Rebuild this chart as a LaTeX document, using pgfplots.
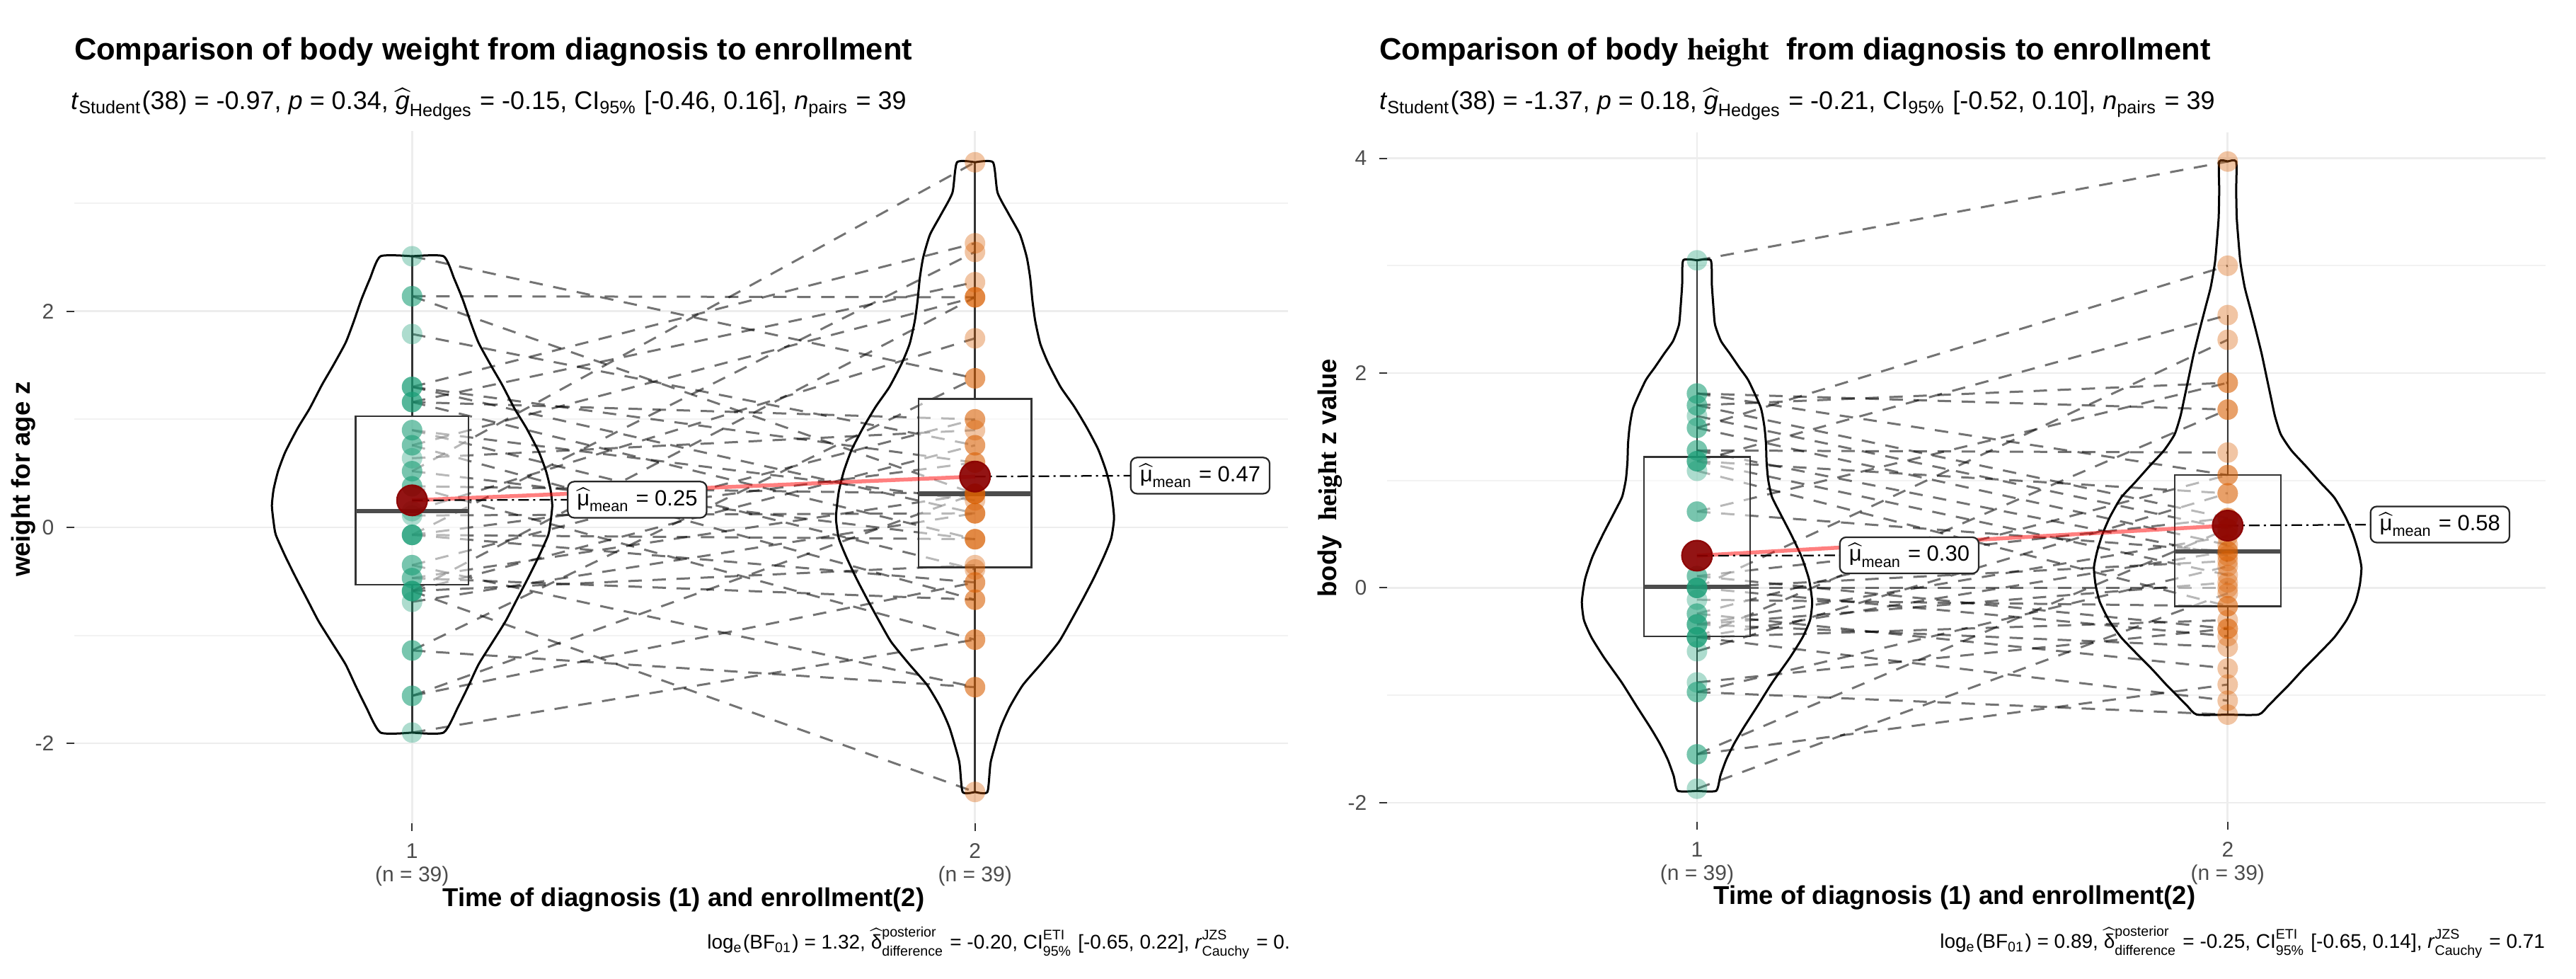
\documentclass[border=0pt]{standalone}
\usepackage{amsmath}
\usepackage{fontspec}
\setmainfont{Liberation Sans}
\newfontfamily\serifh{Liberation Serif}
\usepackage{pgfplots}
\usepackage{pgfplotstable}
\pgfplotsset{compat=1.18}
\usepgfplotslibrary{statistics}

\definecolor{grn}{HTML}{1B9E77}
\definecolor{org}{HTML}{D95F02}
\definecolor{dred}{HTML}{8B0000}

% paired values, left panel (weight)
\pgfplotstableread{
a b
-1.90 -1.04
-1.56 0.31
-1.56 -0.51
-1.14 1.38
-1.14 -1.48
-0.69 0.13
-0.59 -2.45
-0.59 0.76
-0.59 -0.35
-0.59 2.13
-0.47 -0.67
-0.47 0.31
-0.35 -1.48
-0.35 1.00
-0.07 -0.11
-0.07 2.55
-0.07 -0.51
-0.07 0.60
0.11 0.13
0.15 1.75
0.38 -1.04
0.38 0.31
0.52 3.38
0.52 -0.11
0.64 0.90
0.76 -0.67
0.76 2.13
0.90 0.25
0.90 -0.39
1.16 1.00
1.16 2.27
1.16 -0.11
1.30 0.60
1.30 2.63
1.30 0.13
1.79 0.76
2.14 2.13
2.14 0.31
2.51 1.38
}\pairsL

% paired values, right panel (height)
\pgfplotstableread{
a b
-1.87 -0.05
-1.55 -0.90
-1.55 0.55
-0.97 -1.18
-0.97 0.20
-0.88 -0.38
-0.59 0.88
-0.46 -1.05
-0.46 0.34
-0.46 -0.30
-0.46 1.66
-0.34 -0.55
-0.34 0.05
-0.34 0.48
-0.24 -0.75
-0.24 1.05
-0.11 -0.17
0.00 0.25
0.00 -0.45
0.00 2.31
0.00 0.00
0.11 0.65
0.11 -0.38
0.71 0.34
0.71 1.91
1.09 -0.17
1.18 0.88
1.18 0.12
1.18 2.54
1.28 0.30
1.28 1.26
1.49 0.40
1.49 3.00
1.60 0.55
1.70 1.91
1.70 0.65
1.81 1.66
1.81 1.05
3.05 3.97
}\pairsR

% violin outlines: y and half width
\pgfplotstableread{
y w
2.51 0.000
2.51 0.056
2.30 0.075
2.11 0.090
1.90 0.104
1.71 0.118
1.50 0.140
1.32 0.160
1.10 0.182
0.92 0.203
0.70 0.225
0.52 0.238
0.35 0.246
0.20 0.249
0.05 0.246
-0.07 0.242
-0.27 0.225
-0.47 0.206
-0.67 0.186
-0.87 0.166
-1.07 0.142
-1.27 0.118
-1.47 0.100
-1.66 0.082
-1.90 0.056
-1.90 0.000
}\violLa

\pgfplotstableread{
y w
3.38 0.000
3.38 0.032
3.10 0.040
2.90 0.060
2.71 0.080
2.50 0.092
2.31 0.098
2.10 0.102
1.91 0.107
1.70 0.116
1.52 0.130
1.30 0.152
1.12 0.176
0.92 0.199
0.72 0.219
0.52 0.233
0.33 0.242
0.09 0.247
-0.10 0.242
-0.27 0.229
-0.47 0.211
-0.67 0.191
-0.87 0.170
-1.06 0.149
-1.26 0.118
-1.46 0.085
-1.66 0.062
-1.86 0.045
-2.17 0.028
-2.45 0.022
-2.45 0.000
}\violLb

\pgfplotstableread{
y w
3.05 0.000
3.05 0.026
2.82 0.028
2.61 0.031
2.45 0.034
2.30 0.045
2.18 0.062
2.05 0.080
1.93 0.097
1.68 0.120
1.50 0.127
1.34 0.130
1.18 0.131
1.01 0.134
0.85 0.141
0.71 0.155
0.50 0.177
0.29 0.197
0.08 0.211
-0.13 0.217
-0.30 0.213
-0.46 0.199
-0.65 0.175
-0.88 0.142
-1.10 0.114
-1.30 0.088
-1.45 0.070
-1.60 0.055
-1.75 0.044
-1.89 0.036
-1.89 0.000
}\violRa

\pgfplotstableread{
y w
3.97 0.000
3.97 0.016
3.70 0.016
3.45 0.017
3.25 0.020
3.03 0.024
2.80 0.032
2.61 0.042
2.40 0.053
2.18 0.064
1.97 0.073
1.76 0.082
1.60 0.089
1.43 0.100
1.28 0.120
1.13 0.148
0.98 0.175
0.84 0.201
0.66 0.222
0.50 0.236
0.34 0.246
0.19 0.252
0.03 0.249
-0.13 0.241
-0.30 0.224
-0.46 0.201
-0.61 0.172
-0.76 0.142
-0.90 0.116
-1.01 0.094
-1.10 0.076
-1.18 0.058
-1.18 0.000
}\violRb

\pgfplotsset{
  zstyle/.style={
    scale only axis,
    axis line style={draw=none},
    tick align=outside,
    major tick length=2.2pt,
    minor tick length=0pt,
    tick style={black!80, line width=0.4pt},
    xtick pos=left, ytick pos=left,
    xmajorgrids, ymajorgrids, yminorgrids,
    major grid style={gray!14, line width=0.55pt},
    minor grid style={gray!10, line width=0.4pt},
    xtick={1,2},
    xticklabels={{1\\(n = 39)},{2\\(n = 39)}},
    xticklabel style={align=center, font=\fontsize{6}{6.6}\selectfont, text=black!70},
    yticklabel style={font=\fontsize{6}{7}\selectfont, text=black!70},
  },
  gpt/.style={only marks, mark=*, mark size=2.9pt, color=#1,
    mark options={draw opacity=0, fill opacity=0.36}},
  pathl/.style={black, draw opacity=0.55, line width=0.6pt, dash pattern=on 3.8pt off 3pt},
  bx/.style={draw=black!80, fill=white, fill opacity=0.5, line width=0.5pt,
    boxplot/draw direction=y,
    boxplot/box extend=0.2, boxplot/whisker extend=0,
    boxplot/every median/.style={draw=black!70, line width=1.3pt}},
  vio/.style={black, line width=0.6pt, smooth, tension=0.35},
  mpath/.style={red, draw opacity=0.5, line width=1.1pt},
  mseg/.style={black, line width=0.45pt, dash pattern=on 3pt off 1.2pt on 0.6pt off 1.2pt},
  mdot/.style={only marks, mark=*, mark size=4.3pt, color=dred,
    mark options={fill opacity=0.92, draw opacity=0.92}},
}
\tikzset{lbl/.style={draw=black!85, line width=0.45pt, rounded corners=1.8pt, fill=white,
  inner xsep=2.6pt, inner ysep=1.7pt, font=\fontsize{6.2}{7}\selectfont}}

\newcommand{\muhat}[1]{$\widehat{\text{μ}}_{\text{mean}}$ = #1}

\begin{document}
\begin{tikzpicture}
\useasboundingbox (0,0) rectangle (728pt,276.4pt);

% ---------------- left panel ----------------
\begin{axis}[zstyle, at={(21pt,43.8pt)}, anchor=south west,
  width=343pt, height=195.6pt,
  xmin=0.4, xmax=2.556, ymin=-2.74, ymax=3.67,
  ytick={-2,0,2}, yticklabels={-2,0,2}, minor ytick={-3,-1,1,3}]
\addplot[gpt=grn] table[x expr=1, y=a] {\pairsL};
\addplot[gpt=org] table[x expr=2, y=b] {\pairsL};
\addplot[pathl, quiver={u=1, v=\thisrow{b}-\thisrow{a}}] table[x expr=1, y=a] {\pairsL};
\addplot[bx, boxplot prepared={draw position=1, lower whisker=-1.90, lower quartile=-0.53,
  median=0.15, upper quartile=1.03, upper whisker=2.51}] coordinates {};
\addplot[bx, boxplot prepared={draw position=2, lower whisker=-2.45, lower quartile=-0.37,
  median=0.31, upper quartile=1.19, upper whisker=3.38}] coordinates {};
\addplot[vio] table[x expr=1+\thisrow{w}, y=y] {\violLa};
\addplot[vio] table[x expr=1-\thisrow{w}, y=y] {\violLa};
\addplot[vio] table[x expr=2+\thisrow{w}, y=y] {\violLb};
\addplot[vio] table[x expr=2-\thisrow{w}, y=y] {\violLb};
\addplot[mpath] coordinates {(1,0.25) (2,0.47)};
\addplot[mseg] coordinates {(1,0.25) (1.30,0.256)};
\addplot[mseg] coordinates {(2,0.47) (2.30,0.479)};
\addplot[mdot] coordinates {(1,0.25) (2,0.47)};
\node[lbl] at (axis cs:1.40,0.256) {\muhat{0.25}};
\node[lbl] at (axis cs:2.40,0.479) {\muhat{0.47}};
\end{axis}

% ---------------- right panel ----------------
\begin{axis}[zstyle, at={(392pt,44.16pt)}, anchor=south west,
  width=327.4pt, height=194.8pt,
  xmin=0.416, xmax=2.599, ymin=-2.18, ymax=4.24,
  ytick={-2,0,2,4}, yticklabels={-2,0,2,4}, minor ytick={-1,1,3}]
\addplot[gpt=grn] table[x expr=1, y=a] {\pairsR};
\addplot[gpt=org] table[x expr=2, y=b] {\pairsR};
\addplot[pathl, quiver={u=1, v=\thisrow{b}-\thisrow{a}}] table[x expr=1, y=a] {\pairsR};
\addplot[bx, boxplot prepared={draw position=1, lower whisker=-1.89, lower quartile=-0.45,
  median=0.01, upper quartile=1.22, upper whisker=3.05}] coordinates {};
\addplot[bx, boxplot prepared={draw position=2, lower whisker=-1.18, lower quartile=-0.17,
  median=0.34, upper quartile=1.05, upper whisker=2.54}] coordinates {};
\addplot[vio] table[x expr=1+\thisrow{w}, y=y] {\violRa};
\addplot[vio] table[x expr=1-\thisrow{w}, y=y] {\violRa};
\addplot[vio] table[x expr=2+\thisrow{w}, y=y] {\violRb};
\addplot[vio] table[x expr=2-\thisrow{w}, y=y] {\violRb};
\addplot[mpath] coordinates {(1,0.30) (2,0.58)};
\addplot[mseg] coordinates {(1,0.30) (1.30,0.303)};
\addplot[mseg] coordinates {(2,0.58) (2.30,0.59)};
\addplot[mdot] coordinates {(1,0.30) (2,0.58)};
\node[lbl] at (axis cs:1.40,0.303) {\muhat{0.30}};
\node[lbl] at (axis cs:2.40,0.59) {\muhat{0.58}};
\end{axis}

% ---------------- titles ----------------
\node[anchor=base west, inner sep=0pt, font=\fontsize{8.7}{10}\selectfont\bfseries]
  at (20.8pt,259.5pt) {Comparison of body weight from diagnosis to enrollment};
\node[anchor=base west, inner sep=0pt, font=\fontsize{7.2}{8.5}\selectfont]
  at (19.8pt,245.5pt) {\textit{t}$_{\text{Student}}$(38) = -0.97, \textit{p} = 0.34, $\widehat{\textit{g}}_{\text{Hedges}}$ = -0.15, CI$_{\text{95\%}}$ [-0.46, 0.16], \textit{n}$_{\text{pairs}}$ = 39};

\node[anchor=base west, inner sep=0pt, font=\fontsize{8.7}{10}\selectfont\bfseries]
  at (389.6pt,259.5pt) {Comparison of body {\serifh\bfseries height}\ \ from diagnosis to enrollment};
\node[anchor=base west, inner sep=0pt, font=\fontsize{7.2}{8.5}\selectfont]
  at (389.6pt,245.5pt) {\textit{t}$_{\text{Student}}$(38) = -1.37, \textit{p} = 0.18, $\widehat{\textit{g}}_{\text{Hedges}}$ = -0.21, CI$_{\text{95\%}}$ [-0.52, 0.10], \textit{n}$_{\text{pairs}}$ = 39};

% ---------------- axis titles ----------------
\node[anchor=base, inner sep=0pt, font=\fontsize{7.3}{8.5}\selectfont\bfseries]
  at (193.2pt,20.4pt) {Time of diagnosis (1) and enrollment(2)};
\node[anchor=base, inner sep=0pt, font=\fontsize{7.3}{8.5}\selectfont\bfseries]
  at (552.4pt,21pt) {Time of diagnosis (1) and enrollment(2)};
\node[rotate=90, inner sep=0pt, font=\fontsize{7.3}{8.5}\selectfont\bfseries]
  at (6.7pt,141pt) {weight for age z};
\node[rotate=90, inner sep=0pt, font=\fontsize{7.3}{8.5}\selectfont\bfseries]
  at (375.9pt,141.4pt) {body\ \ {\serifh\bfseries height} z value};

% ---------------- captions ----------------
\begin{scope}
\clip (0,0) rectangle (364pt,30pt);
\node[anchor=base east, inner sep=0pt, font=\fontsize{5.6}{7}\selectfont]
  at (371pt,8.4pt) {log$_{\text{e}}$(BF$_{\text{01}}$) = 1.32, $\widehat{\text{δ}}^{\text{posterior}}_{\text{difference}}$ = -0.20, CI$^{\text{ETI}}_{\text{95\%}}$ [-0.65, 0.22], \textit{r}$^{\text{JZS}}_{\text{Cauchy}}$ = 0.71};
\end{scope}
\node[anchor=base east, inner sep=0pt, font=\fontsize{5.6}{7}\selectfont]
  at (719.4pt,8.6pt) {log$_{\text{e}}$(BF$_{\text{01}}$) = 0.89, $\widehat{\text{δ}}^{\text{posterior}}_{\text{difference}}$ = -0.25, CI$^{\text{ETI}}_{\text{95\%}}$ [-0.65, 0.14], \textit{r}$^{\text{JZS}}_{\text{Cauchy}}$ = 0.71};
\end{tikzpicture}
\end{document}
